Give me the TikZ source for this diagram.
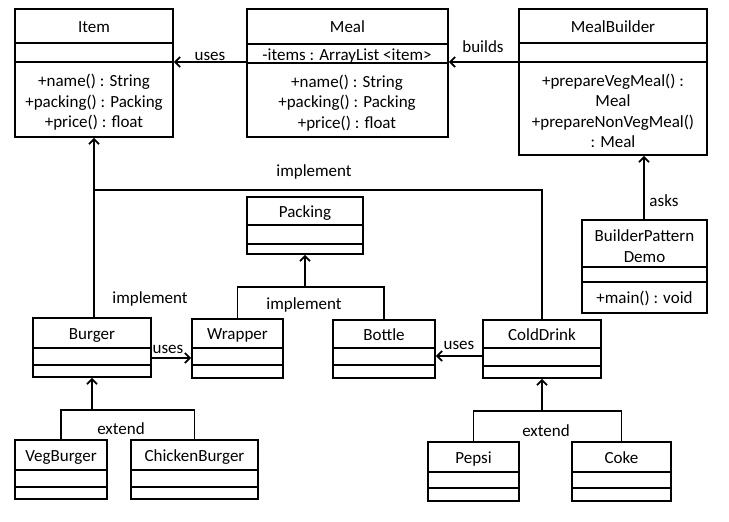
\documentclass[tikz,border=0pt]{standalone}
\usepackage{fontspec}
\setmainfont{Carlito}
\usetikzlibrary{arrows.meta, positioning, fit}

% class box: name, left, top, right, divider 1, divider 2, bottom, title
\newcommand{\umlclass}[8]{%
  \node[classbox, fit={(#2,#3) (#4,#7)}] (#1) {};
  \draw[classline] (#2,#5) -- (#4,#5) (#2,#6) -- (#4,#6);
  \node[txt, anchor=base] (#1-title) at ({(#2+#4)/2},{(#3+#5)/2+6}) {#8};
}

\begin{document}
\begin{tikzpicture}[x=1pt, y=-1pt, font=\fontsize{17}{20.5}\selectfont]
        \tikzstyle{classbox} = [draw, line width=1.8pt, inner sep=0pt]
        \tikzstyle{classline} = [line width=1.8pt]
        \tikzstyle{txt} = [inner sep=0pt, align=center]
        \tikzstyle{edge} = [line width=1.8pt]
        \tikzstyle{connect} = [-{Straight Barb[length=5pt, width=10pt]}, line width=1.8pt]
        \useasboundingbox[fill=white] (0,0) rectangle (729,522);
        % classes
        \umlclass{item}{15}{9}{173}{43}{62}{137}{Item}
        \umlclass{meal}{247}{9}{448}{44}{63}{137}{Meal}
        \umlclass{mealbuilder}{519}{9}{707}{43}{62}{155}{MealBuilder}
        \umlclass{packing}{247}{197}{363}{225}{244}{254}{Packing}
        \umlclass{burger}{33}{318}{151}{348}{365}{377}{Burger}
        \umlclass{wrapper}{192}{319}{283}{348}{365}{378}{Wrapper}
        \umlclass{bottle}{333}{320}{435}{348}{365}{378}{Bottle}
        \umlclass{colddrink}{483}{320}{601}{348}{366}{378}{ColdDrink}
        \umlclass{vegburger}{15}{440}{107}{470}{487}{499}{VegBurger}
        \umlclass{chickenburger}{131}{440}{258}{470}{487}{499}{ChickenBurger}
        \umlclass{pepsi}{428}{442}{519}{472}{488}{501}{Pepsi}
        \umlclass{coke}{572}{442}{671}{472}{488}{501}{Coke}
        \node[classbox, fit={(582,220) (707,313)}] (demo) {};
        \draw[classline] (582,267) -- (707,267) (582,282) -- (707,282);
        \node[txt] (demo-title) at (644.5,246) {BuilderPattern\\Demo};
        % members
        \node[txt] (item-ops) at (94,102.5) {+name() : String\\+packing() : Packing\\+price() : float};
        \node[txt] (meal-attr) at (347,56) {-items : ArrayList <item>};
        \node[txt] (meal-ops) at (347,103) {+name() : String\\+packing() : Packing\\+price() : float};
        \node[txt] (mealbuilder-ops) at (613,111) {+prepareVegMeal() :\\Meal\\+prepareNonVegMeal()\\: Meal};
        \node[txt] (demo-ops) at (644.5,298.5) {+main() : void};
        % connectors
        \coordinate (yuses) at (0,62);
        \coordinate (yimpl) at (0,190);
        \coordinate (ypack) at (0,287);
        \coordinate (ywrap) at (0,358);
        \coordinate (ybottle) at (0,356);
        \coordinate (yextb) at (0,410);
        \coordinate (yextd) at (0,411);
        \coordinate (xasks) at (644,0);
        \draw[connect] (meal.west |- yuses) -- (item.east |- yuses);
        \draw[connect] (mealbuilder.west |- yuses) -- (meal.east |- yuses);
        \draw[connect] (xasks |- demo.north) -- (xasks |- mealbuilder.south);
        \draw[connect] (item.south |- burger.north) -- (item.south);
        \draw[edge] (item.south |- yimpl) -| (colddrink.north);
        \draw[edge] (wrapper.north) |- (packing.south |- ypack) -| (bottle.north);
        \draw[connect] (packing.south |- ypack) -- (packing.south);
        \draw[connect] (burger.east |- ywrap) -- (wrapper.west |- ywrap);
        \draw[connect] (colddrink.west |- ybottle) -- (bottle.east |- ybottle);
        \draw[edge] (vegburger.north) |- (burger.south |- yextb) -| (chickenburger.north);
        \draw[connect] (burger.south |- yextb) -- (burger.south);
        \draw[edge] (pepsi.north) |- (colddrink.south |- yextd) -| (coke.north);
        \draw[connect] (colddrink.south |- yextd) -- (colddrink.south);
        % labels
        \node (uses-item) at (210,56) {uses};
        \node (builds) at (483,47) {builds};
        \node (asks) at (664,201) {asks};
        \node (impl-item) at (314,172) {implement};
        \node (impl-burger) at (150,299) {implement};
        \node (impl-packing) at (304,305) {implement};
        \node (uses-wrapper) at (168,349) {uses};
        \node (uses-bottle) at (459,345) {uses};
        \node (ext-burger) at (121,429) {extend};
        \node (ext-drink) at (546,431) {extend};
\end{tikzpicture}
\end{document}
